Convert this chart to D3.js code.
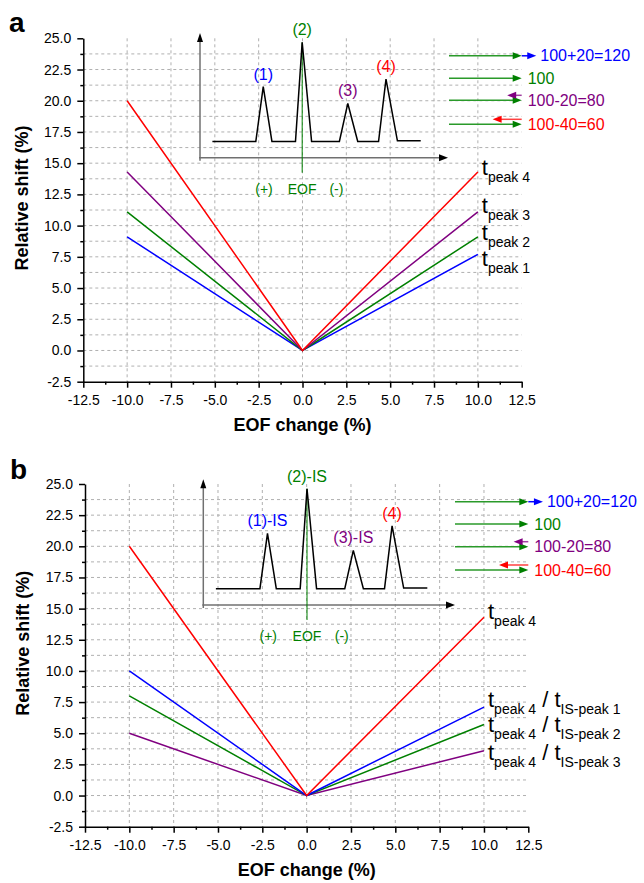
<!doctype html>
<html lang="en">
<head>
<meta charset="utf-8">
<title>Relative shift vs EOF change</title>
<script src="https://cdn.jsdelivr.net/npm/d3@7"></script>
<style>
  body { margin: 0; background: #fff; }
  svg { display: block; font-family: Arial, 'Liberation Sans', sans-serif; }
  .grid line { stroke: #b0b0b0; stroke-dasharray: 3,3; stroke-width: 1; }
  .axis path, .axis line { stroke: #000; stroke-width: 1.5; }
  .axis text { font-size: 14px; fill: #000; font-family: Arial, 'Liberation Sans', sans-serif; }
</style>
</head>
<body>
<div id="chart"></div>
<script>
// EOF change (%) at which the shifts were evaluated
const eofChange = [-10, 0, 10];

// panel a: relative shift of each peak
const shiftPeak1 = [9.1, 0, 7.7];
const shiftPeak2 = [11.1, 0, 9.1];
const shiftPeak3 = [14.3, 0, 11.1];
const shiftPeak4 = [20.0, 0, 14.3];

// panel b: peak 4 alone and relative to an internal standard
const ratioPeak4 = [20.0, 0, 14.3];
const ratioIS1 = [10.0, 0, 7.1];
const ratioIS2 = [8.0, 0, 5.7];
const ratioIS3 = [5.0, 0, 3.6];

const xTicks = [-12.5, -10, -7.5, -5, -2.5, 0, 2.5, 5, 7.5, 10, 12.5];
const xMinor = [-11.25, -8.75, -6.25, -3.75, -1.25, 1.25, 3.75, 6.25, 8.75, 11.25];
const yTicks = [-2.5, 0, 2.5, 5, 7.5, 10, 12.5, 15, 17.5, 20, 22.5, 25];
const yMinor = [-1.25, 1.25, 3.75, 6.25, 8.75, 11.25, 13.75, 16.25, 18.75, 21.25, 23.75];

// schematic electropherogram of the inset (arbitrary units 0-100)
const schematicTime = [5, 22.5, 25.5, 29, 38.5, 41.2, 45, 56.2, 59.6, 63.6, 72, 75, 79.6, 89];
const schematicSignal = [13, 13, 57, 13, 13, 92.5, 13, 13, 43.5, 13, 13, 63, 13.5, 13.5];
const apexIndex = [2, 5, 8, 11];
const peakNamesA = ['(1)', '(2)', '(3)', '(4)'];
const peakNamesB = ['(1)-IS', '(2)-IS', '(3)-IS', '(4)'];
const eofMarks = ['(+)', 'EOF', '(-)'];
const eofMarkTime = [25.8, 41.2, 55];

// mobility arrows
const mobilityText = ['100+20=120', '100', '100-20=80', '100-40=60'];
const mobilityTarget = [120, 100, 80, 60];

const blue = '#0000ff', green = '#008000', purple = '#800080', red = '#ff0000';
const peakColors = [blue, green, purple, red];
const arrowColors = [blue, green, purple, red];

const fmt = d => d.toFixed(1);

const svg = d3.select('#chart').append('svg')
    .attr('width', 644)
    .attr('height', 883);
svg.append('rect').attr('width', 644).attr('height', 883).attr('fill', '#fff');

function arrowHead(g, xTip, yTip, dir, color) {
    const len = 9, half = 3.5;
    g.append('path')
        .attr('d', `M${xTip},${yTip}L${xTip - dir * len},${yTip - half}L${xTip - dir * len},${yTip + half}Z`)
        .attr('fill', color);
}

function drawPanel(p) {
    const g = svg.append('g').attr('transform', `translate(${p.left},${p.top})`);
    const x = d3.scaleLinear().domain([-12.5, 12.5]).range([0, p.width]);
    const y = d3.scaleLinear().domain([-2.5, 25]).range([p.height, 0]);

    // grid
    const grid = g.append('g').attr('class', 'grid');
    grid.selectAll('.h')
        .data(yTicks.concat(yMinor).filter(d => d > -2.5 && d < 25))
        .join('line')
            .attr('class', 'h')
            .attr('x1', 0).attr('x2', p.width)
            .attr('y1', d => y(d)).attr('y2', d => y(d));
    grid.selectAll('.v')
        .data(xTicks.filter(d => d > -12.5 && d < 12.5))
        .join('line')
            .attr('class', 'v')
            .attr('x1', d => x(d)).attr('x2', d => x(d))
            .attr('y1', y(25)).attr('y2', p.height);

    // axes
    g.append('g')
        .attr('class', 'axis')
        .attr('transform', `translate(0,${p.height})`)
        .call(d3.axisBottom(x).tickValues(xTicks).tickFormat(fmt).tickSize(6).tickSizeOuter(0).tickPadding(7));
    g.append('g')
        .attr('class', 'axis')
        .attr('transform', `translate(0,${p.height})`)
        .call(d3.axisBottom(x).tickValues(xMinor).tickFormat('').tickSize(3))
        .call(a => a.select('.domain').remove());
    g.append('g')
        .attr('class', 'axis')
        .call(d3.axisLeft(y).tickValues(yTicks).tickFormat(fmt).tickSize(6).tickSizeOuter(0).tickPadding(6));
    g.append('g')
        .attr('class', 'axis')
        .call(d3.axisLeft(y).tickValues(yMinor).tickFormat('').tickSize(3))
        .call(a => a.select('.domain').remove());

    g.append('text')
        .attr('x', p.width / 2)
        .attr('y', p.height + 49)
        .attr('text-anchor', 'middle')
        .attr('font-weight', 'bold')
        .attr('font-size', 18)
        .text('EOF change (%)');
    g.append('text')
        .attr('transform', `translate(-62,${p.height / 2 - 12}) rotate(-90)`)
        .attr('text-anchor', 'middle')
        .attr('dy', '0.35em')
        .attr('font-weight', 'bold')
        .attr('font-size', 18)
        .text('Relative shift (%)');

    svg.append('text')
        .attr('x', p.letterX).attr('y', p.letterY)
        .attr('font-weight', 'bold')
        .attr('font-size', 28)
        .text(p.letter);

    // inset schematic
    const ix = d3.scaleLinear().domain([0, 100]).range([p.inset.x, p.inset.x + p.inset.w]);
    const iy = d3.scaleLinear().domain([0, 100]).range([p.inset.y, p.inset.y - p.inset.h]);
    const inset = g.append('g');
    inset.append('line')
        .attr('x1', ix(0)).attr('x2', ix(0))
        .attr('y1', iy(0) + 3).attr('y2', iy(100) + 6)
        .attr('stroke', '#707070').attr('stroke-width', 1.5);
    inset.append('path')
        .attr('d', `M${ix(0)},${iy(100)}L${ix(0) - 3},${iy(100) + 9}L${ix(0) + 3},${iy(100) + 9}Z`)
        .attr('fill', '#000');
    inset.append('line')
        .attr('x1', ix(0) - 1).attr('x2', ix(100) - 6)
        .attr('y1', iy(0)).attr('y2', iy(0))
        .attr('stroke', '#707070').attr('stroke-width', 1.5);
    arrowHead(inset, ix(100), iy(0), 1, '#000');

    inset.append('line')
        .attr('x1', ix(schematicTime[5])).attr('x2', ix(schematicTime[5]))
        .attr('y1', iy(schematicSignal[5])).attr('y2', iy(0) + 15)
        .attr('stroke', green).attr('stroke-width', 1);
    inset.append('path')
        .datum(schematicSignal)
        .attr('d', d3.line().x((d, i) => ix(schematicTime[i])).y(d => iy(d)))
        .attr('fill', 'none')
        .attr('stroke', '#000')
        .attr('stroke-width', 1.5);
    inset.selectAll('.peakname')
        .data(p.peakNames)
        .join('text')
            .attr('class', 'peakname')
            .attr('x', (d, i) => ix(schematicTime[apexIndex[i]]))
            .attr('y', (d, i) => iy(schematicSignal[apexIndex[i]]) - 7)
            .attr('text-anchor', 'middle')
            .attr('font-size', 16)
            .attr('fill', (d, i) => peakColors[i])
            .text(d => d);
    inset.selectAll('.eofmark')
        .data(eofMarks)
        .join('text')
            .attr('class', 'eofmark')
            .attr('x', (d, i) => ix(eofMarkTime[i]))
            .attr('y', iy(0) + 36)
            .attr('text-anchor', 'middle')
            .attr('font-size', 14)
            .attr('fill', green)
            .text(d => d);

    // mobility arrows
    const v = d3.scaleLinear().domain([0, 100]).range([p.arrowX0, p.width]);
    mobilityTarget.forEach((t, i) => {
        const ry = p.arrowRows[i];
        const ag = g.append('g');
        ag.append('line')
            .attr('x1', v(0)).attr('x2', v(100) - 6)
            .attr('y1', ry).attr('y2', ry)
            .attr('stroke', '#2a9a2a').attr('stroke-width', 1.5);
        arrowHead(ag, v(100), ry, 1, green);
        let textX = v(100) + 6;
        if (t > 100) {
            ag.append('line')
                .attr('x1', v(100)).attr('x2', v(t) - 6)
                .attr('y1', ry).attr('y2', ry)
                .attr('stroke', arrowColors[i]).attr('stroke-width', 1.5);
            arrowHead(ag, v(t), ry, 1, arrowColors[i]);
            textX = v(t) + 4;
        } else if (t < 100) {
            const ay = ry - 5;
            ag.append('line')
                .attr('x1', v(100)).attr('x2', v(t) + 6)
                .attr('y1', ay).attr('y2', ay)
                .attr('stroke', arrowColors[i]).attr('stroke-width', 1.5)
                .attr('stroke-opacity', 0.75);
            arrowHead(ag, v(t), ay, -1, arrowColors[i]);
        }
        ag.append('text')
            .attr('x', textX)
            .attr('y', ry)
            .attr('dy', '0.35em')
            .attr('font-size', 16)
            .attr('fill', arrowColors[i])
            .text(mobilityText[i]);
    });

    // data lines
    const line = d3.line().x((d, i) => x(eofChange[i])).y(d => y(d));
    p.series.forEach(s => {
        g.append('path')
            .datum(s.values)
            .attr('d', line)
            .attr('fill', 'none')
            .attr('stroke', s.color)
            .attr('stroke-width', 1.5);

        const last = s.values[s.values.length - 1];
        const t = g.append('text')
            .attr('x', x(eofChange[eofChange.length - 1]) + 4)
            .attr('y', y(last) + s.dy)
            .attr('fill', '#000');
        t.append('tspan').attr('font-size', 22).text('t');
        t.append('tspan').attr('font-size', 14).attr('dy', 7).text(s.sub);
        if (s.sub2) {
            t.append('tspan').attr('font-size', 22).attr('dy', -7).text(' / t');
            t.append('tspan').attr('font-size', 14).attr('dy', 7).text(s.sub2);
        }
    });
}

drawPanel({
    left: 83.3, top: 38.3, width: 438.4, height: 343.4,
    letter: 'a', letterX: 9, letterY: 32,
    inset: { x: 116.7, y: 119.4, w: 248, h: 124.7 },
    peakNames: peakNamesA,
    arrowX0: 365.7,
    arrowRows: [17.5, 40, 62, 86],
    series: [
        { values: shiftPeak1, color: blue, sub: 'peak 1', dy: 12 },
        { values: shiftPeak2, color: green, sub: 'peak 2', dy: 3 },
        { values: shiftPeak3, color: purple, sub: 'peak 3', dy: 1.5 },
        { values: shiftPeak4, color: red, sub: 'peak 4', dy: 3.5 }
    ]
});

drawPanel({
    left: 85, top: 484, width: 443.3, height: 342.7,
    letter: 'b', letterX: 10, letterY: 479,
    inset: { x: 118.3, y: 121, w: 251.7, h: 125.7 },
    peakNames: peakNamesB,
    arrowX0: 370,
    arrowRows: [17.7, 40, 62.7, 86],
    series: [
        { values: ratioIS3, color: purple, sub: 'peak 4', sub2: 'IS-peak 3', dy: 9 },
        { values: ratioIS2, color: green, sub: 'peak 4', sub2: 'IS-peak 2', dy: 7 },
        { values: ratioIS1, color: blue, sub: 'peak 4', sub2: 'IS-peak 1', dy: 0 },
        { values: ratioPeak4, color: red, sub: 'peak 4', dy: 1.5 }
    ]
});
</script>
</body>
</html>
